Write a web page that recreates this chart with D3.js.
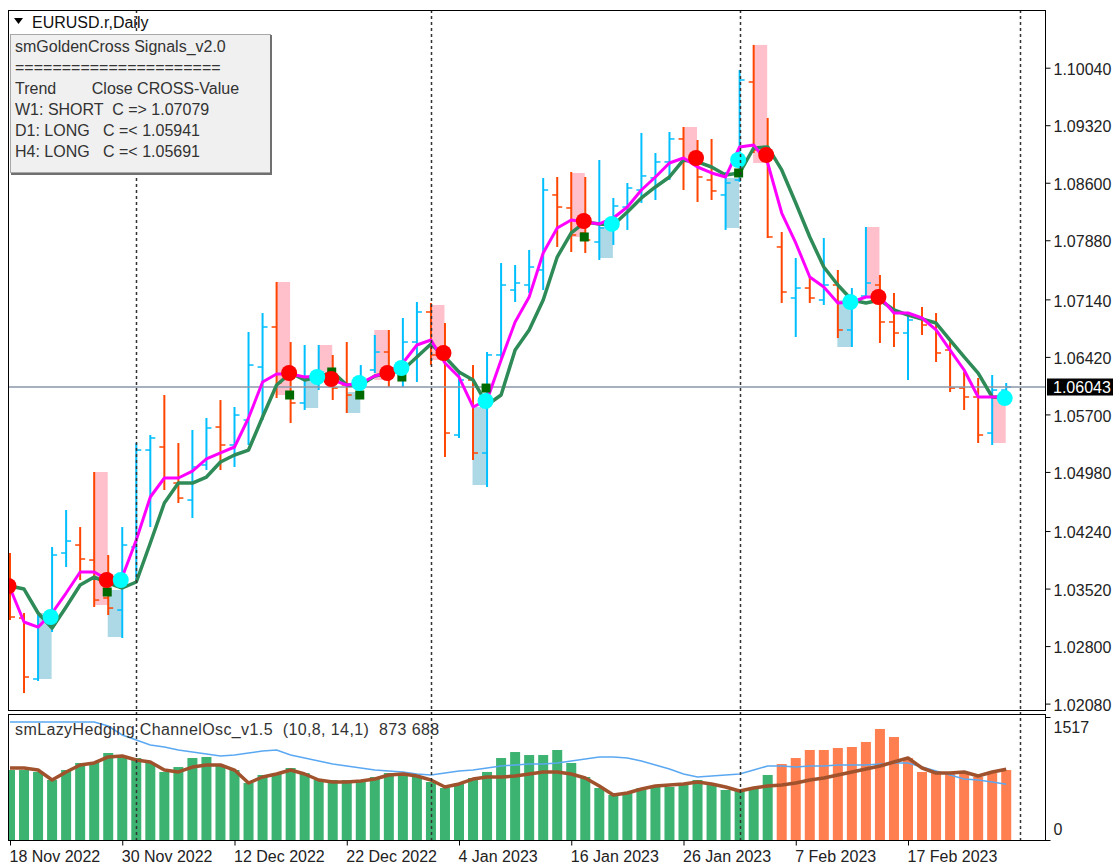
<!DOCTYPE html>
<html>
<head>
<meta charset="utf-8">
<script src="https://cdn.jsdelivr.net/npm/d3@7"></script>
<style>
body { margin: 0; background: #fff; }
svg { display: block; font-family: "Liberation Sans", Arial, sans-serif; }
</style>
</head>
<body>
<div id="chart"></div>
<script>
// trading days shown on the chart (daily bars)
const dates = [
  "2022-11-18","2022-11-21","2022-11-22","2022-11-23","2022-11-24","2022-11-25","2022-11-28","2022-11-29","2022-11-30","2022-12-01",
  "2022-12-02","2022-12-05","2022-12-06","2022-12-07","2022-12-08","2022-12-09","2022-12-12","2022-12-13","2022-12-14","2022-12-15",
  "2022-12-16","2022-12-19","2022-12-20","2022-12-21","2022-12-22","2022-12-23","2022-12-27","2022-12-28","2022-12-29","2022-12-30",
  "2023-01-02","2023-01-03","2023-01-04","2023-01-05","2023-01-06","2023-01-09","2023-01-10","2023-01-11","2023-01-12","2023-01-13",
  "2023-01-16","2023-01-17","2023-01-18","2023-01-19","2023-01-20","2023-01-23","2023-01-24","2023-01-25","2023-01-26","2023-01-27",
  "2023-01-30","2023-01-31","2023-02-01","2023-02-02","2023-02-03","2023-02-06","2023-02-07","2023-02-08","2023-02-09","2023-02-10",
  "2023-02-13","2023-02-14","2023-02-15","2023-02-16","2023-02-17","2023-02-20","2023-02-21","2023-02-22","2023-02-23","2023-02-24",
  "2023-02-27","2023-02-28"
];

const open = [
  1.03564,1.03151,1.02388,1.03189,1.03965,1.04065,1.03877,1.03402,1.03251,1.04040,
  1.05254,1.05292,1.04841,1.04628,1.05067,1.05542,1.05317,1.05630,1.06293,1.06794,
  1.06193,1.05843,1.06131,1.06193,1.06068,1.05943,1.06256,1.06481,1.06231,1.06606,
  1.06982,1.06444,1.05442,1.06131,1.05217,1.06444,1.07257,1.07320,1.07508,1.08447,
  1.08284,1.07971,1.07858,1.08009,1.08296,1.08509,1.08660,1.08860,1.09148,1.08885,
  1.08634,1.08447,1.08634,1.09861,1.09010,1.07796,1.07157,1.07282,1.07132,1.07320,
  1.06757,1.07182,1.07320,1.06857,1.06719,1.06907,1.06857,1.06506,1.06030,1.05918,
  1.05467,1.06005
];
const high = [
  1.03965,1.03214,1.03201,1.04040,1.04503,1.04290,1.04979,1.03940,1.04290,1.05342,
  1.05442,1.05943,1.05342,1.05505,1.05655,1.05880,1.05793,1.06732,1.06969,1.07358,
  1.06606,1.06569,1.06569,1.06444,1.06606,1.06318,1.06694,1.06757,1.06907,1.07107,
  1.07095,1.06844,1.06256,1.06318,1.06481,1.07595,1.07570,1.07758,1.08660,1.08672,
  1.08735,1.08672,1.08885,1.08409,1.08597,1.09223,1.08972,1.09235,1.09298,1.09135,
  1.09148,1.08735,1.10012,1.10325,1.09411,1.07983,1.07658,1.07420,1.07908,1.07508,
  1.07282,1.08046,1.07445,1.07220,1.06982,1.07045,1.06969,1.06606,1.06231,1.06156,
  1.06193,1.06093
];
const low = [
  1.03126,1.02212,1.02363,1.02976,1.03790,1.03627,1.03289,1.03189,1.02901,1.03627,
  1.04290,1.04754,1.04591,1.04403,1.05004,1.05004,1.05042,1.05317,1.05630,1.05905,
  1.05592,1.05755,1.06005,1.05880,1.05718,1.05918,1.06218,1.06043,1.06043,1.06106,
  1.06318,1.05167,1.05405,1.05129,1.04791,1.06381,1.07107,1.07220,1.07257,1.07796,
  1.07733,1.07721,1.07633,1.07821,1.08009,1.08347,1.08384,1.08634,1.08509,1.08359,
  1.08384,1.08009,1.08609,1.08972,1.07908,1.07095,1.06669,1.07095,1.07070,1.06656,
  1.06544,1.07170,1.06594,1.06544,1.06131,1.06694,1.06356,1.05980,1.05755,1.05342,
  1.05317,1.05980
];
const close = [
  1.03164,1.02413,1.03164,1.03940,1.04115,1.03890,1.03376,1.03276,1.04065,1.05254,
  1.05405,1.04904,1.04653,1.05042,1.05530,1.05317,1.05692,1.06318,1.06794,1.06093,
  1.05843,1.06156,1.06231,1.06030,1.05943,1.06131,1.06481,1.06231,1.06606,1.06982,
  1.06444,1.05467,1.06131,1.05217,1.06444,1.07320,1.07345,1.07545,1.08509,1.08296,
  1.07946,1.07883,1.08034,1.08309,1.08534,1.08685,1.08860,1.09148,1.08885,1.08672,
  1.08497,1.08597,1.09886,1.09010,1.07921,1.07232,1.07282,1.07157,1.07320,1.06757,
  1.07107,1.07345,1.06857,1.06719,1.06882,1.06819,1.06469,1.06030,1.05918,1.05442,
  1.06005,1.06043
];

// golden cross moving averages
const fastMA = [
  1.03527,1.03101,1.03038,1.03214,1.03464,1.03727,1.03727,1.03627,1.03664,1.04128,
  1.04666,1.04904,1.04904,1.04991,1.05142,1.05217,1.05292,1.05655,1.06106,1.06206,
  1.06206,1.06168,1.06181,1.06131,1.06068,1.06093,1.06181,1.06231,1.06343,1.06569,
  1.06631,1.06343,1.06168,1.05793,1.05880,1.06381,1.06857,1.07170,1.07721,1.08034,
  1.08134,1.08109,1.08084,1.08159,1.08296,1.08509,1.08672,1.08847,1.08910,1.08797,
  1.08722,1.08672,1.09048,1.09073,1.08847,1.08221,1.07846,1.07420,1.07295,1.07095,
  1.07107,1.07170,1.07170,1.06969,1.06969,1.06907,1.06757,1.06506,1.06256,1.05918,
  1.05918,1.05918
];
const slowMA = [
  1.03552,1.03514,1.03214,1.03026,1.03289,1.03564,1.03664,1.03589,1.03527,1.03602,
  1.04090,1.04591,1.04841,1.04841,1.04916,1.05104,1.05192,1.05254,1.05667,1.06068,
  1.06218,1.06131,1.06168,1.06231,1.06068,1.06068,1.06181,1.06218,1.06256,1.06419,
  1.06581,1.06419,1.06231,1.06131,1.05818,1.05943,1.06506,1.06757,1.07132,1.07670,
  1.07971,1.08109,1.08084,1.08071,1.08234,1.08409,1.08547,1.08672,1.08885,1.08860,
  1.08797,1.08697,1.08722,1.09035,1.09048,1.08760,1.08347,1.07921,1.07545,1.07320,
  1.07132,1.07095,1.07132,1.07007,1.06944,1.06894,1.06844,1.06631,1.06419,1.06218,
  1.05918,1.05905
];

// cross signals
const sellIdx = [0, 7, 20, 23, 27, 31, 41, 49, 54, 62];
const sellVal = [1.03552,1.03627,1.06218,1.06143,1.06218,1.06469,1.08121,1.08910,1.08947,1.07170];
const buyIdx = [3, 8, 22, 25, 28, 34, 43, 52, 60, 71];
const buyVal = [1.03164,1.03627,1.06168,1.06093,1.06281,1.05868,1.08084,1.08885,1.07107,1.05905];
const markIdx = [7, 20, 23, 25, 28, 34, 41, 52];
const markVal = [1.03477,1.05943,1.06231,1.05943,1.06168,1.06030,1.07921,1.08722];

// signal bar boxes
const boxIdx = [3, 7, 8, 20, 22, 23, 25, 27, 31, 34, 41, 43, 49, 52, 54, 60, 62, 71];
const boxKind = ["bull","bear","bull","bear","bull","bear","bull","bear","bear","bull","bear","bull","bear","bull","bear","bull","bear","bear"];
const boxTop = [1.03214,1.04979,1.03502,1.07358,1.06131,1.06569,1.05980,1.06757,1.07070,1.05793,1.08722,1.08046,1.09298,1.08660,1.10325,1.07132,1.08046,1.05943];
const boxBottom = [1.02388,1.03314,1.02913,1.05943,1.05780,1.06131,1.05718,1.06131,1.06381,1.04816,1.07921,1.07658,1.08847,1.08034,1.08847,1.06544,1.07170,1.05342];

// channel oscillator
const oscHist = [
  863,863,839,740,863,950,962,1073,1011,1011,
  950,839,900,1011,1024,925,863,703,802,826,
  888,826,740,740,740,740,777,826,802,777,
  715,641,703,765,839,1011,1085,1048,1048,1110,
  950,777,641,555,580,641,654,654,678,740,
  678,617,617,641,802,937,1011,1110,1110,1135,
  1147,1209,1369,1270,1011,839,839,839,826,777,
  826,863
];
const oscDownFrom = 55;
const oscSignal = [
  888,888,863,740,839,925,950,1024,1036,987,
  962,863,839,900,925,925,863,703,777,814,
  863,814,740,715,715,728,752,802,814,789,
  740,654,691,752,777,777,789,814,839,839,
  814,765,666,555,580,629,666,678,691,715,
  691,654,604,641,666,678,703,740,765,802,
  839,876,913,962,1011,888,826,826,839,789,
  839,873
];
const oscLevel = [
  1455,1455,1455,1455,1455,1455,1455,1406,1295,1233,
  1172,1147,1110,1085,1061,1036,1048,1073,1098,1110,
  1048,1011,974,937,913,888,863,851,839,814,
  802,826,851,863,888,913,925,937,937,950,
  974,999,1024,1024,1011,974,925,876,814,777,
  789,802,814,863,913,913,900,913,913,925,
  925,925,937,950,950,900,851,802,752,740,
  715,688
];

const priceTicks = [1.10040,1.09320,1.08600,1.07880,1.07140,1.06420,1.05700,1.04980,1.04240,1.03520,1.02800,1.02080];
const oscTicks = [0, 1517];
const dateTickIdx = [0, 8, 16, 24, 32, 40, 48, 56, 64];
const periodStarts = [9, 30, 52, 72];
const lastPrice = 1.06043;

const chartTitle = "EURUSD.r,Daily";
const infoLines = [
  "smGoldenCross Signals_v2.0",
  "======================",
  "Trend        Close CROSS-Value",
  "W1: SHORT  C => 1.07079",
  "D1: LONG   C =< 1.05941",
  "H4: LONG   C =< 1.05691"
];
const oscTitle = "smLazyHedging ChannelOsc_v1.5  (10,8, 14,1)  873 688";

// ---------- drawing ----------
const W = 1113, H = 867;
const main = {left: 8, right: 1045, top: 10, bottom: 710};
const osc = {left: 8, right: 1045, top: 714, bottom: 840};

const svg = d3.select("#chart").append("svg")
    .attr("width", W).attr("height", H);

svg.append("rect").attr("width", W).attr("height", H).attr("fill", "#fff");

const defs = svg.append("defs");
defs.append("clipPath").attr("id", "clip-main").append("rect")
    .attr("x", main.left).attr("y", main.top)
    .attr("width", main.right - main.left).attr("height", main.bottom - main.top);
defs.append("clipPath").attr("id", "clip-osc").append("rect")
    .attr("x", osc.left).attr("y", osc.top)
    .attr("width", osc.right - osc.left).attr("height", osc.bottom - osc.top);

// bar index -> x
const x = d3.scaleLinear().domain([0, 64]).range([10, 908]);
// price -> y
const y = d3.scaleLinear().domain([1.02080, 1.10040]).range([703.6, 67.7]);
// oscillator -> y
const yo = d3.scaleLinear().domain([0, 1517]).range([osc.bottom, 717]);

const parse = d3.timeParse("%Y-%m-%d");
const fmt = d3.timeFormat("%-d %b %Y");

const upColor = "#00BFFF", downColor = "#FF4500";

let g = svg.append("g").attr("clip-path", "url(#clip-main)");

// signal boxes behind everything
let boxes = boxIdx.map((b, k) => ({i: b, top: boxTop[k], bot: boxBottom[k], kind: boxKind[k]}));
g.selectAll(".box").data(boxes).enter().append("rect")
    .attr("x", d => x(d.i - 1) - 0.5)
    .attr("width", d => x(d.i) - x(d.i - 1))
    .attr("y", d => y(d.top))
    .attr("height", d => y(d.bot) - y(d.top))
    .attr("fill", d => d.kind === "bear" ? "#FFC0CB" : "#ADD8E6");

// ohlc bars
let bars = dates.map((d, i) => ({i: i, o: open[i], h: high[i], l: low[i], c: close[i]}));
let bar = g.selectAll(".bar").data(bars).enter().append("g")
    .attr("stroke", d => d.c >= d.o ? upColor : downColor);
bar.append("line")
    .attr("x1", d => x(d.i)).attr("x2", d => x(d.i))
    .attr("y1", d => y(d.h)).attr("y2", d => y(d.l))
    .attr("stroke-width", 2);
bar.append("line")
    .attr("x1", d => x(d.i) - 5).attr("x2", d => x(d.i))
    .attr("y1", d => y(d.o)).attr("y2", d => y(d.o))
    .attr("stroke-width", 1.5);
bar.append("line")
    .attr("x1", d => x(d.i)).attr("x2", d => x(d.i) + 5)
    .attr("y1", d => y(d.c)).attr("y2", d => y(d.c))
    .attr("stroke-width", 1.5);

// current price line
g.append("line")
    .attr("x1", main.left).attr("x2", main.right)
    .attr("y1", y(lastPrice)).attr("y2", y(lastPrice))
    .attr("stroke", "#8A97A8").attr("stroke-width", 1.5);

// moving averages
let maLine = d3.line().x((d, i) => x(i)).y(d => y(d));
g.append("path").attr("d", maLine(slowMA))
    .attr("fill", "none").attr("stroke", "#2E8B57").attr("stroke-width", 3.5)
    .attr("stroke-linejoin", "round");
g.append("path").attr("d", maLine(fastMA))
    .attr("fill", "none").attr("stroke", "#FF00FF").attr("stroke-width", 3)
    .attr("stroke-linejoin", "round");

// markers
g.selectAll(".mark").data(markIdx).enter().append("rect")
    .attr("x", (d) => x(d) - 5.5).attr("y", (d, k) => y(markVal[k]) - 4.5)
    .attr("width", 9).attr("height", 9)
    .attr("fill", "#006A00");
g.selectAll(".sell").data(sellIdx).enter().append("circle")
    .attr("cx", d => x(d) - 1.5).attr("cy", (d, k) => y(sellVal[k]))
    .attr("r", 8).attr("fill", "#FF0000");
g.selectAll(".buy").data(buyIdx).enter().append("circle")
    .attr("cx", d => x(d) - 1.5).attr("cy", (d, k) => y(buyVal[k]))
    .attr("r", 8).attr("fill", "#00FFFF");

// oscillator panel
let go = svg.append("g").attr("clip-path", "url(#clip-osc)");
go.selectAll(".hist").data(oscHist).enter().append("rect")
    .attr("x", (d, i) => x(i) - 5)
    .attr("width", 10)
    .attr("y", d => yo(d))
    .attr("height", d => yo(0) - yo(d))
    .attr("fill", (d, i) => i >= oscDownFrom ? "#FF7F50" : "#3CB371");
let oscLine = d3.line().x((d, i) => x(i)).y(d => yo(d));
go.append("path").attr("d", oscLine(oscLevel))
    .attr("fill", "none").attr("stroke", "#5AA8F2").attr("stroke-width", 1.5);
go.append("path").attr("d", oscLine(oscSignal))
    .attr("fill", "none").attr("stroke", "#A0522D").attr("stroke-width", 3.5)
    .attr("stroke-linejoin", "round");

// month separators through both panels
svg.selectAll(".sep").data(periodStarts).enter().append("line")
    .attr("x1", d => Math.round(x(d)) + 0.5).attr("x2", d => Math.round(x(d)) + 0.5)
    .attr("y1", main.top).attr("y2", osc.bottom)
    .attr("stroke", "#333").attr("stroke-width", 1.5)
    .attr("stroke-dasharray", "3,3");

svg.append("text")
    .attr("x", 15).attr("y", 735)
    .attr("font-size", 16).attr("fill", "#333")
    .attr("letter-spacing", 0.4)
    .attr("xml:space", "preserve").style("white-space", "pre")
    .text(oscTitle);

// frames
[main, osc].forEach(p => {
  svg.append("rect")
      .attr("x", p.left + 0.5).attr("y", p.top + 0.5)
      .attr("width", p.right - p.left).attr("height", p.bottom - p.top)
      .attr("fill", "none").attr("stroke", "#000").attr("stroke-width", 1);
});

// price axis
let ya = svg.append("g").attr("transform", "translate(" + (main.right + 0.5) + ",0)")
    .call(d3.axisRight(y).tickValues(priceTicks).tickSize(5).tickFormat(d3.format(".5f")));
ya.select(".domain").remove();
ya.selectAll("text").attr("font-size", 16).attr("font-family", "Liberation Sans, Arial, sans-serif")
    .attr("fill", "#222").attr("dy", "0.42em");

// last price label
svg.append("rect")
    .attr("x", 1047).attr("y", y(lastPrice) - 8.5)
    .attr("width", 66).attr("height", 17).attr("fill", "#000");
svg.append("text")
    .attr("x", 1053).attr("y", y(lastPrice) + 6)
    .attr("font-size", 16).attr("fill", "#fff")
    .text(d3.format(".5f")(lastPrice));

// oscillator axis
let oa = svg.append("g").attr("transform", "translate(" + (osc.right + 0.5) + ",0)")
    .call(d3.axisRight(yo).tickValues(oscTicks).tickSize(5).tickFormat(d3.format("d")));
oa.select(".domain").remove();
oa.selectAll("text").attr("font-size", 16).attr("font-family", "Liberation Sans, Arial, sans-serif")
    .attr("fill", "#222")
    .attr("dy", d => d === 0 ? "-0.35em" : "0.95em");

// date axis
let xa = svg.append("g").attr("transform", "translate(0," + (osc.bottom + 0.5) + ")")
    .call(d3.axisBottom(x).tickValues(dateTickIdx).tickSize(5)
        .tickFormat(i => fmt(parse(dates[i]))));
xa.select(".domain").remove();
xa.selectAll("text").attr("font-size", 16).attr("font-family", "Liberation Sans, Arial, sans-serif")
    .attr("fill", "#222").attr("text-anchor", "start").attr("x", -1).attr("y", 10);

// chart title
svg.append("path").attr("d", "M14,18 L23,18 L18.5,24 Z").attr("fill", "#000");
svg.append("text").attr("x", 32).attr("y", 28)
    .attr("font-size", 16).attr("fill", "#111").text(chartTitle);

// info panel
let info = svg.append("g");
info.append("rect").attr("x", 10.5).attr("y", 34.5).attr("width", 260).attr("height", 138)
    .attr("fill", "#F0F0F0").attr("stroke", "#A8A8A8");
info.append("path").attr("d", "M271,35 L271,174 L11,174")
    .attr("fill", "none").attr("stroke", "#707070").attr("stroke-width", 2);
info.selectAll(".ln").data(infoLines).enter().append("text")
    .attr("x", 15).attr("y", (d, k) => 52 + k * 21)
    .attr("font-size", 16).attr("fill", "#333")
    .attr("xml:space", "preserve").style("white-space", "pre")
    .text(d => d);
</script>
</body>
</html>
